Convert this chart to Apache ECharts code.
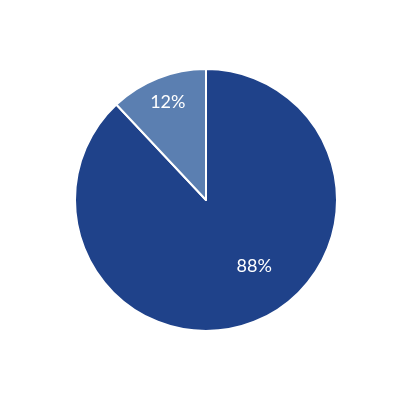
<!DOCTYPE html>
<html>
<head>
<meta charset="utf-8">
<script src="https://cdn.jsdelivr.net/npm/echarts@6/dist/echarts.min.js"></script>
<style>
  html, body { margin: 0; padding: 0; background: #fff; }
  #chart { width: 410px; height: 400px; }
</style>
</head>
<body>
<div id="chart"></div>
<script>
    const categories = ['A', 'B'];
    const values = [88, 12];
    const colors = ['#1f428a', '#5b7fb1'];
    // nudges for Excel-like label spots
    const labelShift = [[23, 2], [-13, -34]];

    const chart = echarts.init(document.getElementById('chart'), null, { renderer: 'canvas' });
    chart.setOption({
        animation: false,
        series: [{
            type: 'pie',
            center: [206, 200],
            radius: 131,
            startAngle: 90,
            clockwise: true,
            data: categories.map((name, i) => ({
                name,
                value: values[i],
                itemStyle: { color: colors[i] }
            })),
            itemStyle: { borderColor: '#ffffff', borderWidth: 2 },
            label: {
                show: true,
                position: 'inside',
                formatter: '{c}%',
                color: '#ffffff',
                fontFamily: 'Lato',
                fontSize: 18
            },
            labelLayout: function (params) {
                const s = labelShift[params.dataIndex] || [0, 0];
                return { dx: s[0], dy: s[1] };
            },
            emphasis: { disabled: true }
        }]
    });
</script>
</body>
</html>
